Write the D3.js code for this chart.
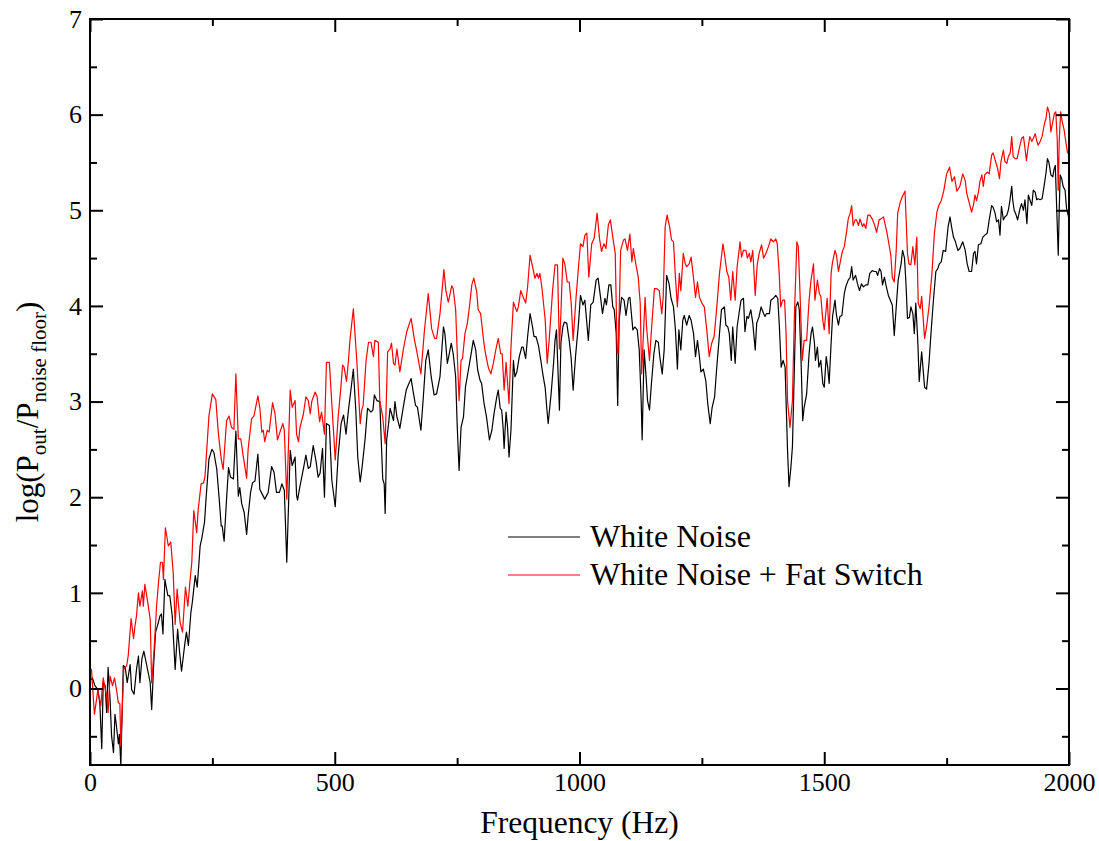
<!DOCTYPE html>
<html>
<head>
<meta charset="utf-8">
<script src="https://cdn.jsdelivr.net/npm/d3@7"></script>
<style>
  body { margin: 0; background: #fff; }
  svg text { font-family: "Liberation Serif", "Times New Roman", serif !important; fill: #000; }
</style>
</head>
<body>
<div id="chart"></div>
<script>
// log(Pout/Pnoise floor) vs frequency
const whiteFreq = [0,5,10,16,20,24,27,31,34,37,41,44,48,51,54,58,60,63,68,72,76,82,85,90,95,99,102,106,110,116,123,126,130,134,138,143,146,149,153,159,163,168,174,179,183,187,194,197,201,206,209,215,219,225,228,234,237,243,249,253,259,264,268,270,274,279,283,287,293,298,303,306,310,315,320,323,328,332,337,343,347,
  351,357,364,371,376,381,387,392,397,402,409,413,419,422,424,428,436,441,446,450,456,462,466,470,475,479,483,489,494,501,507,513,518,523,528,533,538,543,547,552,556,562,567,574,578,581,586,592,598,601,603,606,610,613,620,623,627,633,639,646,650,656,661,665,669,676,681,686,691,697,703,708,
  715,722,725,730,734,738,742,747,750,754,758,763,767,773,778,783,788,792,797,800,805,810,816,821,825,831,834,838,841,844,846,850,853,856,860,865,868,872,877,882,885,890,894,899,904,907,911,916,921,925,930,933,936,942,947,950,953,959,962,966,969,974,979,983,987,992,998,1002,1007,1011,1018,1023,1028,1034,1038,1043,1047,1052,1055,1060,
  1064,1068,1071,1075,1078,1081,1086,1091,1095,1100,1103,1109,1113,1118,1122,1126,1128,1132,1136,1139,1143,1147,1152,1156,1161,1164,1169,1173,1178,1183,1187,1192,1196,1200,1203,1207,1211,1214,1219,1224,1228,1233,1237,1241,1245,1248,1253,1258,1262,1267,1271,1276,1280,1286,1290,1296,1299,1303,1306,1310,1313,1318,1322,1327,1330,1335,1338,1342,1345,1350,1354,1359,1362,1367,1371,1376,1379,1382,1388,1391,1396,1401,1405,1408,1412,1416,1420,1423,1425,1428,
  1432,1435,1439,1442,1446,1449,1453,1456,1459,1464,1469,1473,1476,1480,1482,1486,1489,1493,1497,1500,1504,1507,1510,1514,1517,1522,1525,1529,1532,1536,1541,1544,1549,1553,1556,1559,1564,1568,1572,1576,1580,1585,1589,1593,1598,1602,1606,1609,1613,1616,1619,1623,1626,1631,1635,1639,1643,1648,1651,1657,1660,1664,1667,1670,1674,1677,1681,1684,1687,1691,1694,1699,1705,1709,1714,1718,1723,1728,1732,1735,1739,1743,1748,1753,1757,1760,1764,1768,1773,
  1777,1783,1788,1792,1796,1801,1805,1808,1811,1815,1820,1824,1828,1833,1837,1842,1845,1849,1852,1856,1859,1862,1866,1869,1873,1876,1879,1883,1885,1888,1892,1895,1900,1903,1907,1910,1914,1917,1920,1924,1927,1931,1934,1937,1941,1945,1949,1953,1956,1959,1963,1967,1969,1972,1975,1978,1980,1982,1985,1988,1992,1995,1999];
const whiteLog = [0.08,0.11,0.03,-0.01,-0.15,-0.63,0.06,0.03,-0.25,0.22,-0.11,-0.49,-0.67,-0.27,-0.39,-0.58,-0.48,-0.81,0.24,0.22,0.06,0.25,-0.01,-0.06,0.2,0.34,0.06,0.31,0.39,0.24,0.06,-0.22,0.24,0.59,0.66,0.76,0.78,0.57,1.14,0.97,0.97,0.76,0.2,0.62,0.38,0.18,0.48,0.59,0.45,0.79,0.9,1.18,1.06,1.49,1.56,1.74,1.98,2.4,2.5,2.47,2.29,1.98,1.7,1.7,1.54,1.98,2.31,2.21,2.19,2.69,2.01,2.1,1.93,1.84,1.61,1.8,2.05,2.15,2.17,2.45,2.08,
  2.04,1.98,2.05,2.32,2.26,2.05,2.05,2.14,2.07,1.32,2.49,2.33,2.42,2.02,1.97,2.09,2.3,2.44,2.3,2.32,2.54,2.37,2.21,2.25,2.51,2.0,2.77,2.75,2.18,1.9,2.44,2.77,2.86,2.66,2.91,3.12,3.34,2.91,2.42,2.16,2.32,2.61,2.93,2.89,2.91,3.07,3.01,3.0,2.19,2.14,1.83,2.6,2.77,2.93,2.8,3.0,2.84,2.72,2.91,3.12,3.17,3.24,3.08,2.96,2.94,2.7,3.05,3.43,3.54,3.26,3.07,3.08,
  3.26,3.78,3.71,3.4,3.5,3.61,3.5,3.26,2.77,2.28,2.73,2.84,3.15,3.33,3.48,3.64,3.54,3.33,3.22,3.19,2.98,2.84,2.6,2.7,2.86,3.05,3.12,2.93,2.91,2.72,2.51,2.89,2.73,2.42,2.7,3.43,3.26,3.31,3.47,3.57,3.57,3.45,3.68,3.92,3.78,3.68,3.68,3.59,3.43,3.29,3.14,2.94,2.77,3.08,3.4,3.64,3.75,2.91,3.61,3.78,3.83,3.82,3.64,3.45,3.12,3.48,3.82,4.11,4.01,4.06,3.64,4.01,4.04,4.27,4.29,4.09,3.92,4.08,4.01,4.22,
  4.22,3.99,3.96,3.71,2.96,3.85,4.09,4.06,3.9,4.08,4.09,3.75,3.78,3.75,3.54,3.01,2.6,3.54,3.26,3.01,2.91,3.19,3.5,3.64,3.62,3.47,3.29,3.54,4.32,4.23,4.08,3.99,3.75,3.34,3.75,3.54,3.85,3.9,3.8,3.9,3.85,3.71,3.47,3.64,3.47,3.31,3.34,3.22,2.98,2.77,2.94,3.05,3.33,3.71,3.96,3.99,3.8,3.78,3.71,3.43,3.78,3.4,3.78,3.96,4.06,4.08,3.73,3.89,3.87,3.96,3.82,3.54,3.82,3.89,3.99,3.92,3.89,3.92,3.92,4.06,4.08,4.11,4.08,3.82,3.36,3.43,3.36,2.84,2.49,2.11,
  2.32,2.53,3.36,3.99,4.04,3.96,3.36,2.8,2.94,3.08,3.5,3.71,3.78,3.61,3.43,3.57,3.36,3.43,3.19,3.15,3.47,3.36,3.19,3.61,3.89,4.06,3.9,3.8,3.89,3.9,4.13,4.2,4.27,4.3,4.41,4.27,4.32,4.23,4.16,4.23,4.2,4.22,4.22,4.34,4.37,4.36,4.36,4.32,4.39,4.36,4.22,4.3,4.22,4.11,4.06,4.01,3.69,4.06,4.27,4.44,4.58,4.5,4.23,3.87,3.88,3.99,3.92,3.71,4.03,3.64,3.21,3.52,3.15,3.13,3.4,3.71,4.06,4.36,4.39,4.44,4.46,4.58,4.57,4.83,4.93,4.83,4.72,4.67,4.58,
  4.6,4.67,4.58,4.44,4.36,4.36,4.55,4.57,4.44,4.64,4.65,4.72,4.74,4.76,4.9,5.05,5.03,4.97,4.88,4.9,4.74,5.04,4.9,4.93,4.95,5.0,5.09,5.25,5.11,5.0,4.95,4.9,5.02,5.07,5.0,5.11,4.86,5.16,5.11,5.05,5.21,5.19,5.11,5.12,5.11,5.12,5.25,5.39,5.54,5.5,5.37,5.35,5.42,5.47,5.0,4.53,5.0,5.37,5.33,5.25,5.21,5.02,4.93];

const fatFreq = [0,3,9,16,22,27,34,37,41,46,50,54,58,61,63,69,75,78,84,89,92,95,99,102,107,109,112,118,123,126,131,136,140,144,148,150,154,160,165,170,174,178,184,189,195,200,204,208,212,218,221,227,232,235,243,250,257,262,268,272,279,284,289,294,298,303,308,313,320,323,330,335,343,347,
  351,354,357,362,366,373,378,383,388,394,397,402,409,413,419,422,426,429,436,441,446,450,453,460,464,469,473,479,483,489,494,501,507,512,516,519,524,528,531,538,545,552,555,558,564,569,574,579,582,589,592,598,603,608,613,616,620,623,627,633,640,647,656,663,667,676,683,691,698,704,708,
  715,723,727,732,739,742,747,751,754,758,761,766,771,776,780,784,790,793,798,804,808,814,819,824,829,834,839,842,846,850,856,860,865,872,875,880,885,890,894,899,904,909,913,916,919,923,930,934,938,945,950,955,959,962,966,970,975,979,983,987,993,998,1002,1007,1011,1015,1019,1025,1030,1036,1041,1045,1050,1054,1059,
  1063,1068,1073,1077,1079,1084,1090,1093,1098,1103,1107,1110,1115,1120,1124,1127,1130,1134,1137,1143,1147,1153,1158,1163,1168,1171,1175,1179,1184,1188,1192,1196,1200,1204,1207,1212,1216,1219,1224,1228,1233,1237,1241,1245,1250,1255,1260,1265,1270,1275,1280,1286,1293,1296,1301,1305,1309,1313,1318,1322,1328,1331,1335,1340,1343,1347,1350,1354,1359,1363,1367,1372,1376,1381,1386,1391,1396,1401,1404,1408,1411,1415,1419,1422,1425,1430,
  1435,1439,1444,1447,1451,1455,1459,1464,1469,1473,1478,1481,1486,1490,1493,1497,1500,1503,1506,1510,1514,1517,1522,1525,1529,1532,1537,1541,1546,1549,1553,1556,1559,1563,1566,1570,1573,1578,1581,1585,1589,1593,1598,1602,1607,1612,1616,1621,1624,1628,1632,1636,1639,1643,1647,1650,1655,1660,1665,1670,1673,1677,1681,1685,1689,1692,1696,1699,1705,1709,1714,1720,1725,1730,1734,1739,1744,1750,1756,1761,1766,1771,
  1777,1783,1788,1791,1796,1801,1805,1808,1811,1815,1818,1822,1825,1828,1833,1837,1842,1845,1850,1854,1858,1861,1866,1869,1873,1876,1880,1883,1886,1890,1894,1899,1903,1907,1910,1913,1917,1920,1924,1927,1931,1934,1937,1941,1945,1950,1953,1956,1960,1963,1967,1970,1973,1976,1978,1980,1983,1986,1990,1994,1997,1999];
const fatLog = [0.18,0.2,-0.27,-0.02,-0.18,0.11,-0.08,-0.25,0.13,0.03,0.11,-0.01,-0.15,-0.16,-0.6,0.2,0.24,0.34,0.73,0.52,0.66,0.76,1.0,0.86,1.02,0.86,1.09,0.9,0.72,0.06,0.41,0.86,1.11,1.32,1.32,1.14,1.68,1.49,1.53,1.21,0.67,1.04,0.69,0.59,1.06,0.86,1.11,1.32,1.86,1.63,1.87,2.14,2.15,2.22,2.85,3.08,3.02,2.68,2.4,2.29,2.8,2.85,2.73,2.71,3.29,2.61,2.61,2.43,2.2,2.5,2.82,2.85,3.06,2.93,
  2.68,2.7,2.58,2.7,2.68,2.99,2.87,2.6,2.68,2.77,2.7,1.98,3.12,2.94,3.01,2.66,2.58,2.73,2.87,3.05,3.01,2.87,3.0,3.1,3.05,2.79,2.89,2.66,3.41,3.41,2.98,2.39,2.84,3.12,3.38,3.36,3.21,3.43,3.64,3.97,3.43,2.77,2.91,2.96,3.43,3.62,3.62,3.47,3.64,3.62,3.01,2.84,2.56,3.52,3.55,3.61,3.4,3.38,3.55,3.31,3.54,3.73,3.87,3.64,3.54,3.29,3.73,4.13,3.76,3.66,3.66,
  3.92,4.38,4.16,4.04,4.21,4.18,3.96,3.4,3.01,3.43,3.45,3.71,3.82,4.03,4.22,4.29,4.15,3.96,3.92,3.64,3.5,3.35,3.29,3.4,3.54,3.66,3.5,3.5,3.12,3.41,2.98,3.57,4.04,3.94,3.99,4.16,4.09,4.03,4.2,4.53,4.41,4.29,4.34,4.29,4.34,4.2,3.85,3.4,3.64,4.16,4.43,4.43,3.55,3.92,4.5,4.44,4.25,4.25,4.03,3.64,4.09,4.41,4.65,4.62,4.74,4.76,4.3,4.65,4.71,4.97,4.7,4.57,4.65,4.6,4.85,
  4.9,4.72,4.55,3.5,3.5,4.58,4.69,4.7,4.58,4.75,4.46,4.6,4.44,4.3,4.03,3.29,3.64,4.09,3.78,3.43,3.75,4.18,4.18,4.16,3.92,4.09,4.83,4.95,4.83,4.69,4.67,4.3,3.99,4.34,4.16,4.55,4.44,4.41,4.44,4.51,4.29,4.09,4.25,4.09,4.03,3.99,3.75,3.47,3.61,3.68,3.96,4.34,4.65,4.55,4.36,4.3,4.06,4.36,4.06,4.41,4.67,4.51,4.58,4.58,4.5,4.55,4.46,4.58,4.11,4.43,4.55,4.64,4.5,4.55,4.62,4.7,4.67,4.7,4.65,4.34,3.99,4.06,4.06,3.71,3.01,2.73,
  3.01,3.89,4.67,4.62,4.06,3.43,3.64,3.64,4.06,4.27,4.44,4.06,4.27,4.13,4.1,3.85,3.75,3.92,4.08,3.71,4.34,4.46,4.58,4.53,4.36,4.44,4.57,4.62,4.79,4.91,4.97,5.05,4.84,4.9,4.9,4.84,4.91,4.83,4.86,4.81,4.95,4.95,4.91,4.86,4.77,4.9,4.91,4.93,4.86,4.77,4.65,4.53,4.3,4.25,4.58,4.97,5.08,5.15,5.2,4.55,4.44,4.43,4.62,4.43,4.72,4.03,3.97,4.1,3.66,3.78,3.99,4.34,4.76,4.98,5.05,5.1,5.2,5.38,5.45,5.3,5.35,5.2,
  5.25,5.38,5.31,5.18,5.08,4.98,5.06,5.16,5.1,5.19,5.3,5.37,5.25,5.37,5.4,5.38,5.58,5.6,5.51,5.44,5.33,5.51,5.63,5.51,5.49,5.56,5.6,5.77,5.56,5.54,5.54,5.66,5.75,5.77,5.65,5.52,5.68,5.77,5.72,5.75,5.8,5.73,5.68,5.72,5.77,5.91,5.96,6.08,6.01,5.82,5.93,6.01,6.03,5.73,5.21,5.73,6.03,5.93,5.84,5.7,5.6,5.6];

const xMajor = [0, 500, 1000, 1500, 2000];
const xMinor = [250, 750, 1250, 1750];
const yMajor = [0, 1, 2, 3, 4, 5, 6, 7];
const yMinor = [-0.5, 0.5, 1.5, 2.5, 3.5, 4.5, 5.5, 6.5];

const seriesNames = ["White Noise", "White Noise + Fat Switch"];
const seriesColors = ["#000000", "#ff0000"];

const serif = "'Liberation Serif', 'Times New Roman', serif";

const margin = {top: 19, right: 30, bottom: 76, left: 90},
      width = 1099 - margin.left - margin.right,
      height = 841 - margin.top - margin.bottom;

const svg = d3.select("#chart")
              .append("svg")
              .attr("width", 1099)
              .attr("height", 841)
              .append("g")
              .attr("transform", `translate(${margin.left},${margin.top})`);

const x = d3.scaleLinear().domain([0, 2000]).range([0, width]);
const y = d3.scaleLinear().domain([-0.8, 7]).range([height, 0]);

svg.append("clipPath")
   .attr("id", "plot-clip")
   .append("rect")
   .attr("width", width)
   .attr("height", height);

const series = [
    {freq: whiteFreq, vals: whiteLog},
    {freq: fatFreq, vals: fatLog}
];

// red is drawn last so it sits on top
series.forEach((s, k) => {
    const line = d3.line()
                   .x((d, i) => x(s.freq[i]))
                   .y(d => y(d));
    svg.append("path")
       .attr("clip-path", "url(#plot-clip)")
       .attr("d", line(s.vals))
       .attr("fill", "none")
       .attr("stroke", seriesColors[k])
       .attr("stroke-width", 1.2)
       .attr("stroke-linejoin", "round");
});

// axes: ticks point inward
function styleAxis(g) {
    g.select(".domain").remove();
    g.attr("font-family", null);
    g.selectAll(".tick line").attr("stroke", "#000").attr("stroke-width", 2);
    g.selectAll("text")
     .style("font-family", serif)
     .style("font-size", "26px");
}

svg.append("g")
   .attr("transform", `translate(0,${height})`)
   .call(d3.axisBottom(x).tickValues(xMajor).tickSize(-13).tickPadding(8).tickFormat(d3.format("d")))
   .call(styleAxis);
svg.append("g")
   .attr("transform", `translate(0,${height})`)
   .call(d3.axisBottom(x).tickValues(xMinor).tickSize(-7).tickFormat(""))
   .call(styleAxis);

svg.append("g")
   .call(d3.axisLeft(y).tickValues(yMajor).tickSize(-13).tickPadding(8).tickFormat(d3.format("d")))
   .call(styleAxis);
svg.append("g")
   .call(d3.axisLeft(y).tickValues(yMinor).tickSize(-7).tickFormat(""))
   .call(styleAxis);

svg.append("g")
   .attr("transform", `translate(${width},0)`)
   .call(d3.axisRight(y).tickValues(yMajor).tickSize(-13).tickFormat(""))
   .call(styleAxis);
svg.append("g")
   .attr("transform", `translate(${width},0)`)
   .call(d3.axisRight(y).tickValues(yMinor).tickSize(-7).tickFormat(""))
   .call(styleAxis);

svg.append("g")
   .call(d3.axisTop(x).tickValues(xMajor).tickSize(-13).tickFormat(""))
   .call(styleAxis);
svg.append("g")
   .call(d3.axisTop(x).tickValues(xMinor).tickSize(-7).tickFormat(""))
   .call(styleAxis);

// frame
svg.append("rect")
   .attr("width", width)
   .attr("height", height)
   .attr("fill", "none")
   .attr("stroke", "#000")
   .attr("stroke-width", 2);

// axis titles
svg.append("text")
   .attr("x", x(1000))
   .attr("y", height + 68)
   .attr("text-anchor", "middle")
   .style("font-size", "31.5px")
   .text("Frequency (Hz)");

const yTitle = svg.append("text")
   .attr("transform", `translate(${38 - margin.left},${412 - margin.top}) rotate(-90)`)
   .attr("text-anchor", "middle")
   .style("font-size", "31px");
yTitle.append("tspan").text("log(P");
yTitle.append("tspan").style("font-size", "21px").attr("dy", 8).text("out");
yTitle.append("tspan").attr("dy", -8).text("/P");
yTitle.append("tspan").style("font-size", "21px").attr("dy", 8).text("noise floor");
yTitle.append("tspan").attr("dy", -8).text(")");

// legend
const legend = svg.append("g")
                  .attr("transform", `translate(${508 - margin.left},${537 - margin.top})`);
seriesNames.forEach((name, k) => {
    legend.append("line")
          .attr("x1", 0).attr("x2", 72)
          .attr("y1", k * 38).attr("y2", k * 38)
          .attr("stroke", seriesColors[k])
          .attr("stroke-width", 1.2);
    legend.append("text")
          .attr("x", 82)
          .attr("y", k * 38 + 10)
          .style("font-size", "32px")
          .text(name);
});
</script>
</body>
</html>
